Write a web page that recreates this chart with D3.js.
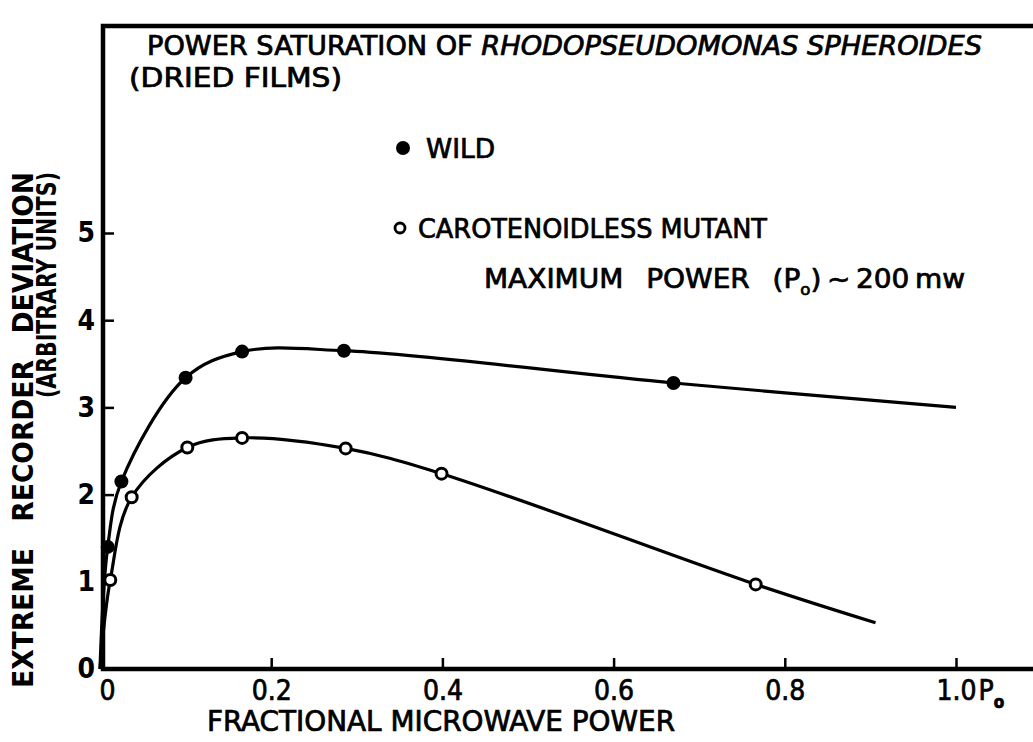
<!DOCTYPE html>
<html>
<head>
<meta charset="utf-8">
<script src="https://cdn.jsdelivr.net/npm/d3@7"></script>
<style>
  html, body { margin: 0; padding: 0; background: #fff; }
  svg { display: block; }
  text { font-family: "Liberation Sans Narrow", "DejaVu Sans Condensed", "Liberation Sans", sans-serif; fill: #000; }
  .lettered { stroke: #000; stroke-width: 0.7px; }
</style>
</head>
<body>
<svg id="chart" width="1033" height="742"></svg>
<script>
// Power saturation measurements (fraction of P0, recorder deviation)
const wildX   = [0.009, 0.025, 0.100, 0.166, 0.285, 0.670];
const wildY   = [1.40,  2.15,  3.34,  3.64,  3.65,  3.28];
const mutantX = [0.012, 0.037, 0.102, 0.166, 0.287, 0.399, 0.766];
const mutantY = [1.02,  1.97,  2.54,  2.65,  2.53,  2.24,  0.97];

// Where each drawn curve begins and ends beyond the measured points
const wildCurveEnds   = [[0, 0], [1.0, 3.0]];
const mutantCurveEnds = [[0, 0], [0.906, 0.53]];

const xTicks = [0, 0.2, 0.4, 0.6, 0.8, 1.0];
const xTickLabels = ["0", "0.2", "0.4", "0.6", "0.8", "1.0"];
const yTicks = [0, 1, 2, 3, 4, 5];
const yTickLabels = ["0", "1", "2", "3", "4", "5"];

const svg = d3.select("#chart");

const x = d3.scaleLinear().domain([0, 1]).range([100, 956]);
const y = d3.scaleLinear().domain([0, 5]).range([669, 233]);

const frameLeft = 103, frameTop = 26, frameRight = 1033, frameBottom = 669;

// Axes with inward ticks
const xAxis = d3.axisBottom(x)
  .tickValues(xTicks)
  .tickSizeInner(-11)
  .tickSizeOuter(0)
  .tickFormat((d, i) => xTickLabels[i]);

const gx = svg.append("g")
  .attr("transform", `translate(0,${frameBottom})`)
  .call(xAxis);
gx.select(".domain").remove();
gx.selectAll(".tick line").attr("stroke", "#000").attr("stroke-width", 2.5);
gx.selectAll(".tick text")
  .attr("class", "lettered")
  .attr("y", 31)
  .attr("dy", null)
  .attr("font-size", 28)
  .attr("fill", "#000");
gx.selectAll(".tick").filter(d => d === 0).select("line").remove();
gx.selectAll(".tick").filter(d => d === 0).select("text").attr("x", 7);

// subscript P0 beside the 1.0 label
gx.selectAll(".tick").filter(d => d === 1).append("text")
  .attr("class", "lettered")
  .attr("x", 22).attr("y", 31)
  .attr("text-anchor", "start")
  .attr("font-size", 28).attr("fill", "#000")
  .text("P")
  .append("tspan").attr("font-size", 17).attr("font-weight", "bold").attr("dy", 8).text("o");

const yAxis = d3.axisLeft(y)
  .tickValues(yTicks)
  .tickSizeInner(-11)
  .tickSizeOuter(0)
  .tickFormat((d, i) => yTickLabels[i]);

const gy = svg.append("g")
  .attr("transform", `translate(${frameLeft},0)`)
  .call(yAxis);
gy.select(".domain").remove();
gy.selectAll(".tick line").attr("stroke", "#000").attr("stroke-width", 2.5);
gy.selectAll(".tick text")
  .attr("x", -8)
  .attr("font-size", 28)
  .attr("font-weight", "bold")
  .attr("fill", "#000");
gy.selectAll(".tick").filter(d => d === 0).select("line").remove();

// Frame: left, top and bottom rules
svg.append("path")
  .attr("d", `M${frameRight},${frameTop}H${frameLeft}V${frameBottom}H${frameRight}`)
  .attr("fill", "none")
  .attr("stroke", "#000")
  .attr("stroke-width", 4.5);

// Curves
const line = d3.line()
  .x(d => x(d[0]))
  .y(d => y(d[1]))
  .curve(d3.curveCatmullRom.alpha(0.5));

const wildPts = [wildCurveEnds[0], ...wildX.map((v, i) => [v, wildY[i]]), wildCurveEnds[1]];
const mutantPts = [mutantCurveEnds[0], ...mutantX.map((v, i) => [v, mutantY[i]]), mutantCurveEnds[1]];

svg.append("path").datum(wildPts)
  .attr("d", line).attr("fill", "none")
  .attr("stroke", "#000").attr("stroke-width", 3.2);
svg.append("path").datum(mutantPts)
  .attr("d", line).attr("fill", "none")
  .attr("stroke", "#000").attr("stroke-width", 3.2);

// Markers
svg.append("g").selectAll("circle")
  .data(wildX.map((v, i) => [v, wildY[i]]))
  .join("circle")
  .attr("cx", d => x(d[0])).attr("cy", d => y(d[1]))
  .attr("r", 7).attr("fill", "#000");

svg.append("g").selectAll("circle")
  .data(mutantX.map((v, i) => [v, mutantY[i]]))
  .join("circle")
  .attr("cx", d => x(d[0])).attr("cy", d => y(d[1]))
  .attr("r", 5.5).attr("fill", "#fff")
  .attr("stroke", "#000").attr("stroke-width", 3);

// Title
const title = svg.append("text")
  .attr("class", "lettered")
  .attr("x", 147).attr("y", 55)
  .attr("font-size", 26)
  .attr("textLength", 835).attr("lengthAdjust", "spacingAndGlyphs");
title.append("tspan").text("POWER  SATURATION  OF  ");
title.append("tspan").attr("font-style", "italic").text("RHODOPSEUDOMONAS  SPHEROIDES");

svg.append("text")
  .attr("class", "lettered")
  .attr("x", 129).attr("y", 87)
  .attr("font-size", 26)
  .attr("textLength", 213).attr("lengthAdjust", "spacingAndGlyphs")
  .text("(DRIED  FILMS)");

// Legend
svg.append("circle").attr("cx", 403).attr("cy", 148).attr("r", 7).attr("fill", "#000");
svg.append("text").attr("class", "lettered").attr("x", 426).attr("y", 158)
  .attr("font-size", 27).attr("textLength", 69).attr("lengthAdjust", "spacingAndGlyphs")
  .text("WILD");

svg.append("circle").attr("cx", 400).attr("cy", 228).attr("r", 5).attr("fill", "#fff")
  .attr("stroke", "#000").attr("stroke-width", 2.8);
svg.append("text").attr("class", "lettered").attr("x", 418).attr("y", 238)
  .attr("font-size", 27).attr("textLength", 349).attr("lengthAdjust", "spacingAndGlyphs")
  .text("CAROTENOIDLESS MUTANT");

const pText = svg.append("text").attr("class", "lettered").attr("x", 484).attr("y", 288)
  .attr("font-size", 27)
  .attr("textLength", 481).attr("lengthAdjust", "spacingAndGlyphs");
pText.append("tspan").text("MAXIMUM\u2002 POWER\u2002 (P");
pText.append("tspan").attr("font-size", 16).attr("dy", 7).text("o");
pText.append("tspan").attr("dy", -7).text(")\u2009~\u2009200\u2009mw");

// Axis titles
svg.append("text")
  .attr("transform", "translate(33,430) rotate(-90)")
  .attr("text-anchor", "middle")
  .attr("font-size", 29)
  .attr("font-weight", "bold")
  .attr("textLength", 516).attr("lengthAdjust", "spacingAndGlyphs")
  .text("EXTREME\u2003RECORDER\u2003DEVIATION");

svg.append("text")
  .attr("transform", "translate(56,285) rotate(-90)")
  .attr("text-anchor", "middle")
  .attr("font-size", 27)
  .attr("font-weight", "bold")
  .attr("textLength", 226).attr("lengthAdjust", "spacingAndGlyphs")
  .text("(ARBITRARY  UNITS)");

svg.append("text")
  .attr("class", "lettered")
  .attr("x", 207).attr("y", 731)
  .attr("font-size", 28)
  .attr("textLength", 468).attr("lengthAdjust", "spacingAndGlyphs")
  .text("FRACTIONAL  MICROWAVE  POWER");
</script>
</body>
</html>
